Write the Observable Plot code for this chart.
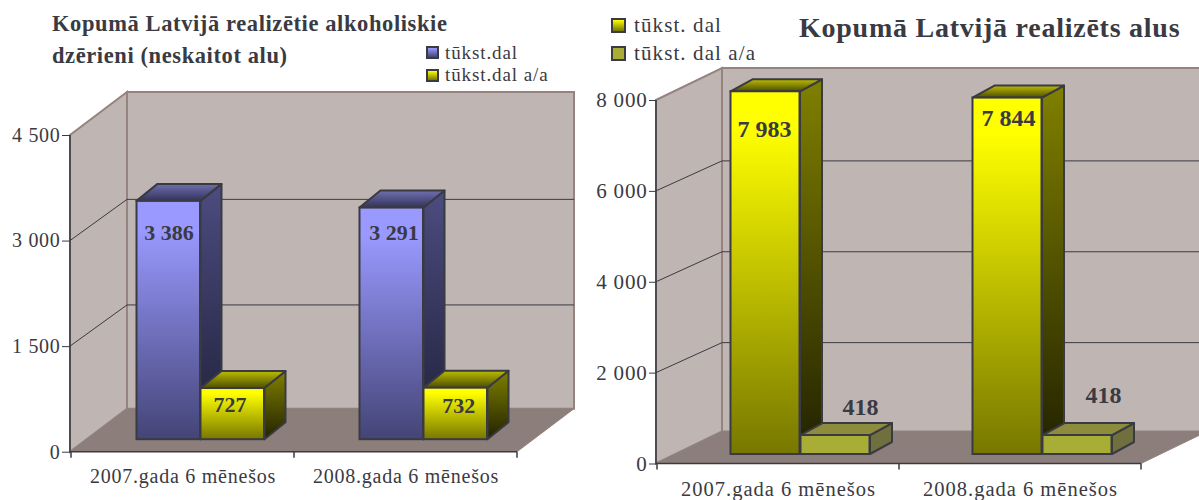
<!DOCTYPE html>
<html><head><meta charset="utf-8">
<script src="https://cdn.jsdelivr.net/npm/d3@7"></script>
<script src="https://cdn.jsdelivr.net/npm/@observablehq/plot@0.6"></script>
<style>
html,body{margin:0;padding:0;background:#fff;overflow:hidden}
#page{position:relative;width:1199px;height:500px;overflow:hidden;font-family:"Liberation Serif",serif;color:#3a3a42}
#page>svg,#page>figure{position:absolute;top:0;margin:0}
.t{position:absolute;white-space:nowrap;line-height:1}
.b{font-weight:bold}
.sw{position:absolute;box-sizing:border-box;border:2px solid #3a3a42}
</style></head><body><div id="page"></div>
<script>
const categories = ["2007.gada 6 mēnešos", "2008.gada 6 mēnešos"];

const leftTitle = ["Kopumā Latvijā realizētie alkoholiskie", "dzērieni (neskaitot alu)"];
const leftSeries = ["tūkst.dal", "tūkst.dal a/a"];
const leftValues = [3386, 3291];
const leftValuesAA = [727, 732];
const leftTicks = [0, 1500, 3000, 4500];

const rightTitle = "Kopumā Latvijā realizēts alus";
const rightSeries = ["tūkst. dal", "tūkst. dal a/a"];
const rightValues = [7983, 7844];
const rightValuesAA = [418, 418];
const rightTicks = [0, 2000, 4000, 6000, 8000];

const fmt = v => String(v).replace(/\B(?=(\d{3})+$)/g, " ");
const INK = "#3a3a42", WALL = "#bfb5b3", FLOOR = "#8c7f7b", EDGE = "#94837f";

function grad(id, stops) {
  return `<linearGradient id="${id}" x1="0" y1="0" x2="0" y2="1">` +
    stops.map(([o, c]) => `<stop offset="${o}" stop-color="${c}"/>`).join("") + `</linearGradient>`;
}
const palettes = {
  blue: {front: [[0,"#9999ff"],[.12,"#9999ff"],[1,"#444477"]], side: [[0,"#4c4c80"],[1,"#20203a"]], top: [[0,"#6f6fb0"],[1,"#33335a"]]},
  yellow: {front: [[0,"#ffff00"],[.1,"#ffff00"],[1,"#777700"]], side: [[0,"#808000"],[1,"#222200"]], top: [[0,"#bdbd00"],[1,"#4d4d00"]]},
  olive: {front: [[0,"#a8ad36"],[1,"#a8ad36"]], side: [[0,"#70703f"],[1,"#70703f"]], top: [[0,"#8c8c3c"],[1,"#8c8c3c"]]}
};

function defsMark(prefix) {
  return () => {
    const g = document.createElementNS("http://www.w3.org/2000/svg", "defs");
    g.innerHTML = Object.entries(palettes).flatMap(([k, p]) =>
      Object.entries(p).map(([f, s]) => grad(`${prefix}-${k}-${f}`, s))).join("");
    return g;
  };
}

// The box of the chart: walls, floor, gridlines, base line and ticks, all placed from the scales
function boxMark(ticks, wall) {
  return (index, {x, y}, values, dims) => {
    const x0 = dims.marginLeft, x1 = dims.width - dims.marginRight;
    const y0 = y(0), yT = y(ticks[ticks.length - 1]);
    const {dx, dy, gridDy} = wall;
    const g = d3.create("svg:g");
    const poly = (pts, fill, stroke, w) => g.append("path")
      .attr("d", "M" + pts.join("L") + (fill === "none" ? "" : "Z"))
      .attr("fill", fill).attr("stroke", stroke).attr("stroke-width", w);
    poly([[x0 + dx, yT - dy], [x1 + dx, yT - dy], [x1 + dx, y0 - dy], [x0 + dx, y0 - dy]], WALL, EDGE, 2);
    poly([[x0, yT], [x0 + dx, yT - dy], [x0 + dx, y0 - dy], [x0, y0]], WALL, EDGE, 2);
    poly([[x0, y0], [x0 + dx, y0 - dy], [x1 + dx, y0 - dy], [x1, y0]], FLOOR, "none", 0);
    poly([[x1, y0], [x1 + dx, y0 - dy]], "none", EDGE, 1);
    for (const t of ticks.slice(1, -1)) {
      poly([[x0, y(t)], [x0 + dx, y(t) - gridDy], [x1 + dx, y(t) - gridDy]], "none", INK, 1);
    }
    poly([[x0, yT], [x0, y0], [x1, y0]], "none", INK, 1.5);
    for (const xt of [...categories.map(c => x(c)), x1]) poly([[xt, y0], [xt, y0 + 6]], "none", INK, 1.5);
    return g.node();
  };
}

// The side and top faces of one series' boxes, placed from the same scales as the bars
function facesMark(rows, s, prefix) {
  return (index, {x, y}) => {
    const g = d3.create("svg:g");
    for (const r of rows) {
      const l = x(r.category) + s.left, w = l + s.width, top = y(r.value) + s.base, bot = y(0) + s.base;
      const p = (pts, fill) => g.append("path").attr("d", "M" + pts.join("L") + "Z")
        .attr("fill", fill).attr("stroke", INK).attr("stroke-width", 2).attr("stroke-linejoin", "round");
      p([[w, bot], [w + s.depthX, bot - s.depthY], [w + s.depthX, top - s.depthY], [w, top]], `url(#${prefix}-${s.pal}-side)`);
      p([[l, top], [l + s.depthX, top - s.depthY], [w + s.depthX, top - s.depthY], [w, top]], `url(#${prefix}-${s.pal}-top)`);
    }
    return g.node();
  };
}

function panel(cfg) {
  const bw = (cfg.width - cfg.marginLeft - cfg.marginRight) / categories.length;
  const series = cfg.series.map((vals, i) => {
    const left = cfg.barLeft[i], width = cfg.barWidth;
    return {rows: categories.map((category, j) => ({category, value: vals[j]})),
      s: {left, width, base: cfg.base, depthX: cfg.depth[0], depthY: cfg.depth[1], pal: cfg.palettes[i]}};
  });
  const marks = [defsMark(cfg.id), boxMark(cfg.ticks, cfg.wall)];
  series.forEach(({rows, s}) => {
    marks.push(facesMark(rows, s, cfg.id));
    marks.push(Plot.barY(rows, {x: "category", y: "value",
      insetLeft: s.left, insetRight: bw - s.left - s.width, dy: s.base,
      fill: `url(#${cfg.id}-${s.pal}-front)`, stroke: INK, strokeWidth: 2}));
  });
  series.forEach(({rows}, i) => rows.forEach((r, j) => {
    const [dx, dy] = cfg.nudge[i][j];
    marks.push(Plot.text([r], {x: "category", y: "value", text: d => fmt(d.value), dx, dy,
      fontSize: cfg.labelSize, fontWeight: "bold", fill: INK}));
  }));
  marks.push(Plot.axisY({ticks: cfg.ticks, tickFormat: fmt, tickSize: cfg.yTick, tickPadding: 2, fontSize: cfg.tickSize, stroke: INK, fill: INK, label: null, ariaLabel: "y-axis"}));
  marks.push(Plot.axisX({tickSize: 0, tickPadding: cfg.xPad, fontSize: cfg.catSize, fill: INK, label: null, ariaLabel: "x-axis"}));
  const svg = Plot.plot({
    width: cfg.width, height: 500,
    marginLeft: cfg.marginLeft, marginRight: cfg.marginRight, marginTop: cfg.marginTop, marginBottom: cfg.marginBottom,
    style: {background: "transparent", fontFamily: "'Liberation Serif',serif", color: INK, overflow: "hidden"},
    x: {domain: categories, padding: 0},
    y: {domain: [0, cfg.ticks[cfg.ticks.length - 1]]},
    marks
  });
  svg.querySelectorAll('[aria-label^="y-axis"] text').forEach(t => t.style.letterSpacing = cfg.ySpacing);
  svg.querySelectorAll('[aria-label^="x-axis"] text').forEach(t => t.style.letterSpacing = cfg.xSpacing);
  svg.style.left = cfg.left + "px";
  return svg;
}

const page = document.getElementById("page");
page.append(panel({
  id: "l", left: 0, width: 600, marginLeft: 70, marginRight: 83, marginTop: 135, marginBottom: 48.3,
  series: [leftValues, leftValuesAA], ticks: leftTicks, palettes: ["blue", "yellow"],
  wall: {dx: 57, dy: 43, gridDy: 41.2}, depth: [21, 17], base: -12.5, barLeft: [65.5, 129.5], barWidth: 64,
  nudge: [[[-14, 19], [-12, 12.5]], [[47, 3.7], [52.7, 5.5]]],
  labelSize: 22, tickSize: 20, catSize: 20, xPad: 17, yTick: 8, ySpacing: "0.7px", xSpacing: "0.75px"
}));
page.append(panel({
  id: "r", left: 570, width: 629, marginLeft: 86, marginRight: 58, marginTop: 100, marginBottom: 36.5,
  series: [rightValues, rightValuesAA], ticks: rightTicks, palettes: ["yellow", "olive"],
  wall: {dx: 66, dy: 32, gridDy: 30}, depth: [22, 12], base: -9.5, barLeft: [73.5, 143.5], barWidth: 69.5,
  nudge: [[[-14, 28], [-12, 11]], [[82, -37.5], [83, -49.5]]],
  labelSize: 24, tickSize: 21, catSize: 20.5, xPad: 17, yTick: 7, ySpacing: "0.8px", xSpacing: "1px"
}));

function text(str, x, cy, size, bold, spacing) {
  const d = document.createElement("div");
  d.className = "t" + (bold ? " b" : "");
  d.textContent = str;
  d.style.cssText = `left:${x}px;top:${cy - size / 2}px;font-size:${size}px;letter-spacing:${spacing || 0}px`;
  page.append(d);
}
function swatch(x, y, size, pal) {
  const d = document.createElement("div");
  d.className = "sw";
  const st = palettes[pal].front;
  d.style.cssText = `left:${x}px;top:${y}px;width:${size}px;height:${size}px;background:linear-gradient(${st[0][1]},${st[st.length - 1][1]})`;
  page.append(d);
}
text(leftTitle[0], 52, 24, 22.5, true, 0.6);
text(leftTitle[1], 52, 56, 22.5, true, 0.6);
swatch(426, 46, 13, "blue");
swatch(426, 69, 13, "yellow");
text(leftSeries[0], 445, 52, 19, false, 0.9);
text(leftSeries[1], 445, 74, 19, false, 0.9);
swatch(611, 18, 15, "yellow");
swatch(611, 46, 15, "olive");
text(rightSeries[0], 634, 25, 21, false, 1.1);
text(rightSeries[1], 634, 53, 21, false, 1.1);
text(rightTitle, 799, 28, 28, true, 0.75);
</script></body></html>
